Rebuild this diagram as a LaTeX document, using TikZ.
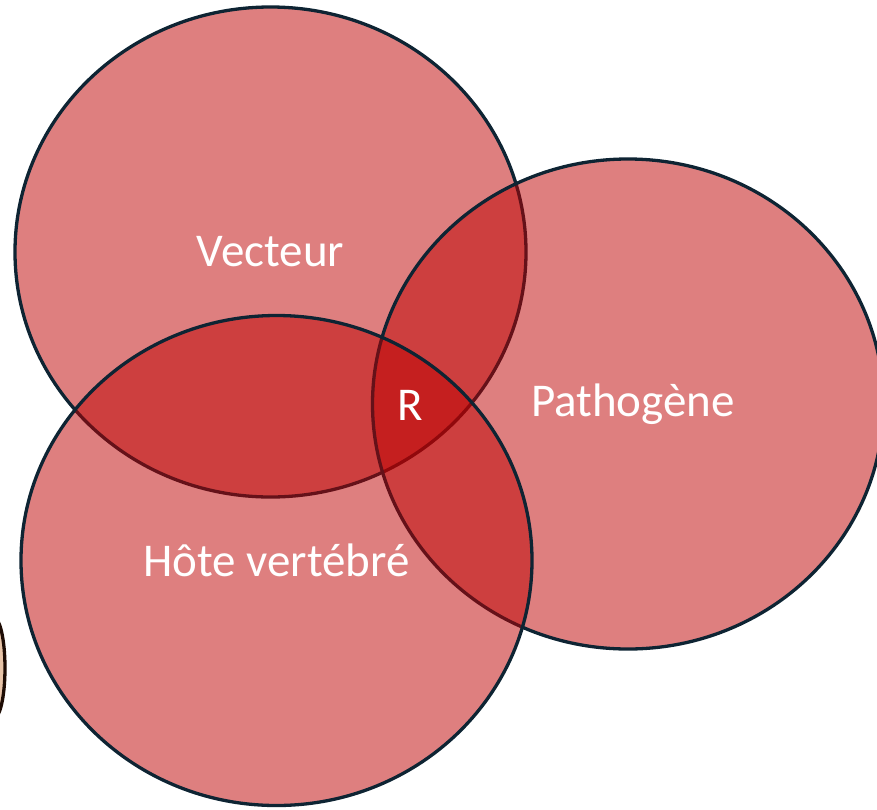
\documentclass[tikz,border=0pt]{standalone}
\usepackage{fontspec}
\setmainfont{Carlito}
\usepackage{xcolor}
\usetikzlibrary{shapes.geometric}
\definecolor{vennred}{HTML}{BD0000}
\definecolor{vennline}{HTML}{0E2433}
\definecolor{edgetan}{HTML}{E8C4A8}
\definecolor{edgedark}{HTML}{1E0C04}

\begin{document}
\begin{tikzpicture}[
    x=1pt, y=-1pt,
    setbox/.style={
      ellipse,
      fill=vennred,
      fill opacity=0.5,
      text opacity=1,
      draw=vennline,
      line width=3.3pt,
      minimum width=511pt,
      minimum height=490pt,
      inner sep=0pt,
      text=white,
      font=\fontsize{47}{50}\selectfont
    }
  ]
  \useasboundingbox (0,0) rectangle (877,809);
  \clip (0,0) rectangle (877,809);

  % piece of a shape cut by the left edge
  \draw[fill=edgetan, draw=edgedark, line width=3.3pt] (-6,668) ellipse [x radius=11, y radius=50];

  \node[setbox] (vecteur) at (270.5,252) {Vecteur};
  \node[setbox] (pathogene) at (628,404) {\hspace*{10pt}Pathogène};
  \node[setbox] (hote) at (276.5,560.5) {Hôte vertébré};

  \node[text=white, font=\fontsize{47}{50}\selectfont] (risk) at (410,405) {R};
\end{tikzpicture}
\end{document}
